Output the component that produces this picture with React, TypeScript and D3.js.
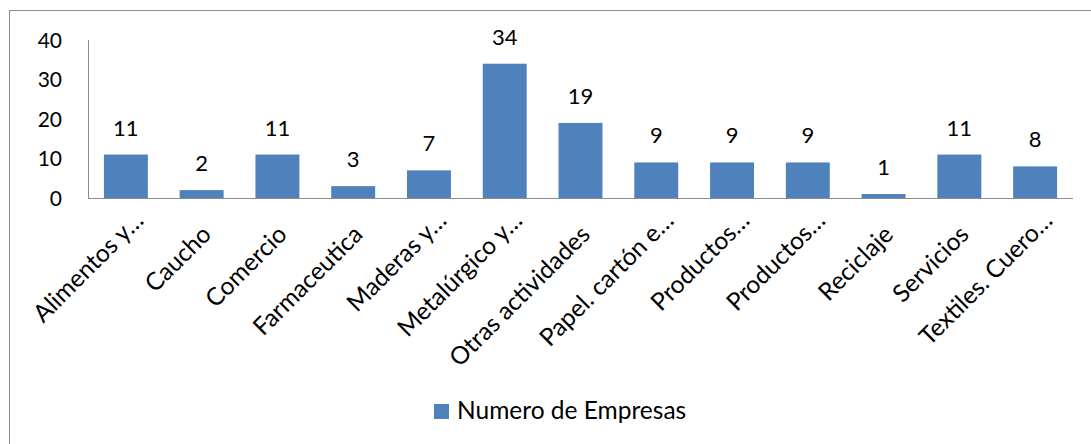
import React from "react";
import * as d3 from "d3";

const categories = [
  "Alimentos y…",
  "Caucho",
  "Comercio",
  "Farmaceutica",
  "Maderas y…",
  "Metalúrgico y…",
  "Otras actividades",
  "Papel. cartón e…",
  "Productos…",
  "Productos…",
  "Reciclaje",
  "Servicios",
  "Textiles. Cuero…",
];
const values = [11, 2, 11, 3, 7, 34, 19, 9, 9, 9, 1, 11, 8];
const yTicks = [0, 10, 20, 30, 40];
const seriesName = "Numero de Empresas";

const W = 1091;
const H = 444;
const FONT = "Lato, 'Open Sans', sans-serif";

export default function App() {
  const x = d3
    .scaleBand<number>()
    .domain(categories.map((_, i) => i))
    .range([88, 1073])
    .paddingInner(0.42)
    .paddingOuter(0.21);
  const y = d3.scaleLinear().domain([0, 40]).range([198, 40]);
  const color = "#4F81BD";

  return (
    <svg
      width={W}
      height={H}
      style={{ position: "absolute", left: 0, top: 0, background: "#fff" }}
    >
      <rect x={9.5} y={10.5} width={1100} height={460} fill="#fff" stroke="#8c8c8c" strokeWidth={1} />
      {/* y axis */}
      <line x1={88.5} x2={88.5} y1={y(40)} y2={y(0)} stroke="#8c8c8c" strokeWidth={1} />
      {yTicks.map((t) => (
        <text
          key={t}
          x={62}
          y={y(t)}
          dy="0.36em"
          textAnchor="end"
          fontFamily={FONT}
          fontSize={21}
          fill="#000"
        >
          {t}
        </text>
      ))}
      {/* bars */}
      {values.map((v, i) => (
        <rect
          key={i}
          x={x(i)}
          y={y(v)}
          width={x.bandwidth()}
          height={y(0) - y(v)}
          fill={color}
        />
      ))}
      {/* x axis */}
      <line x1={88} x2={1073} y1={198.5} y2={198.5} stroke="#8c8c8c" strokeWidth={1} />
      {/* value labels */}
      {values.map((v, i) => (
        <text
          key={i}
          x={(x(i) as number) + x.bandwidth() / 2}
          y={y(v) - 19}
          textAnchor="middle"
          fontFamily={FONT}
          fontSize={22}
          fill="#000"
        >
          {v}
        </text>
      ))}
      {/* category labels */}
      {categories.map((c, i) => {
        const truncated = c.endsWith("…");
        const cx = (x(i) as number) + x.bandwidth() / 2 + (truncated ? 19 : 11);
        const cy = truncated ? 222 : 236;
        return (
          <text
            key={i}
            transform={`translate(${cx},${cy}) rotate(-45)`}
            textAnchor="end"
            fontFamily={FONT}
            fontSize={24.5}
            fill="#000"
          >
            {c}
          </text>
        );
      })}
      {/* legend */}
      <rect x={434} y={404} width={15} height={15} fill={color} />
      <text x={457} y={419} fontFamily={FONT} fontSize={24.5} fill="#000">
        {seriesName}
      </text>
    </svg>
  );
}
